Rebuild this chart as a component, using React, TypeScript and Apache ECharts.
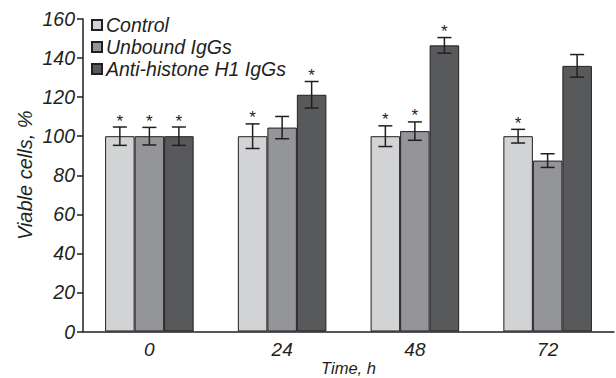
import React, { useEffect, useRef } from "react";
import * as echarts from "echarts";

const categories = ["0", "24", "48", "72"];
const seriesNames = ["Control", "Unbound IgGs", "Anti-histone H1 IgGs"];
const controlValues = [100, 100, 100, 100];
const unboundValues = [100, 104.4, 102.6, 87.5];
const antiValues = [100, 121.2, 146.5, 136];
const controlErr = [4.7, 6.3, 5.3, 3.5];
const unboundErr = [4.5, 5.7, 4.7, 3.5];
const antiErr = [4.7, 6.8, 4, 5.8];
const controlSig = [1, 1, 1, 1];
const unboundSig = [1, 0, 1, 0];
const antiSig = [1, 1, 1, 0];
const yTicks = [0, 20, 40, 60, 80, 100, 120, 140, 160];

const colors = ["#d1d3d4", "#939598", "#58595b"];
const FONT = "'Liberation Sans', Arial, sans-serif";
const CAT_GAP = 0.333;

export default function App() {
  const ref = useRef<HTMLDivElement>(null);
  useEffect(() => {
    if (!ref.current) return;
    const chart = echarts.init(ref.current, undefined, { renderer: "svg" });
    const values = [controlValues, unboundValues, antiValues];
    const errs = [controlErr, unboundErr, antiErr];
    const sigs = [controlSig, unboundSig, antiSig];

    const barSeries = values.map((vals, i) => ({
      name: seriesNames[i],
      type: "bar",
      data: vals,
      barGap: "0%",
      barCategoryGap: "33.3%",
      itemStyle: { color: colors[i], borderColor: "#231f20", borderWidth: 1 },
      z: 2,
    }));

    const errSeries = values.map((vals, i) => ({
      type: "custom",
      name: "err" + i,
      z: 5,
      silent: true,
      data: vals.map((v, k) => [k, v, errs[i][k], sigs[i][k]]),
      renderItem: (params: any, api: any) => {
        const k = api.value(0);
        const v = api.value(1);
        const e = api.value(2);
        const s = api.value(3);
        const band = api.size([1, 0])[0];
        const bw = (band * (1 - CAT_GAP)) / 3;
        const center = api.coord([k, v]);
        const x = center[0] + (i - 1) * bw;
        const top = api.coord([k, v + e])[1];
        const bot = api.coord([k, v - e])[1];
        const half = 7;
        const style = { stroke: "#231f20", lineWidth: 1.5 };
        const children: any[] = [
          { type: "line", shape: { x1: x, y1: top, x2: x, y2: bot }, style },
          { type: "line", shape: { x1: x - half, y1: top, x2: x + half, y2: top }, style },
          { type: "line", shape: { x1: x - half, y1: bot, x2: x + half, y2: bot }, style },
        ];
        if (s) {
          children.push({
            type: "text",
            style: {
              text: "*",
              x: x,
              y: top - 6,
              align: "center",
              verticalAlign: "middle",
              fontSize: 17,
              fontFamily: FONT,
              fill: "#231f20",
            },
          });
        }
        return { type: "group", children };
      },
    }));

    chart.setOption({
      animation: false,
      backgroundColor: "#ffffff",
      grid: {
        left: 83,
        right: 2,
        top: 19,
        bottom: 46.5,
        containLabel: false,
        outerBoundsMode: "none",
      },
      legend: {
        data: seriesNames,
        orient: "vertical",
        left: 86,
        top: 10,
        itemWidth: 10,
        itemHeight: 10,
        itemGap: 2,
        icon: "rect",
        textStyle: {
          fontFamily: FONT,
          fontStyle: "italic",
          fontSize: 19.5,
          color: "#231f20",
          padding: [0, 0, 0, -1],
        },
      },
      xAxis: {
        type: "category",
        data: categories,
        name: "Time, h",
        nameLocation: "middle",
        nameGap: 27,
        nameMoveOverlap: false,
        nameTextStyle: {
          fontFamily: FONT,
          fontStyle: "italic",
          fontSize: 16.5,
          lineHeight: 18,
          color: "#231f20",
          verticalAlign: "top",
        },
        axisLine: { lineStyle: { color: "#231f20", width: 1.5 } },
        axisTick: { length: 6, lineStyle: { color: "#231f20", width: 1.5 } },
        axisLabel: { fontFamily: FONT, fontStyle: "italic", fontSize: 19, color: "#231f20", margin: 8 },
      },
      yAxis: {
        type: "value",
        min: 0,
        max: 160,
        interval: 20,
        name: "Viable cells, %",
        nameLocation: "middle",
        nameGap: 48,
        nameMoveOverlap: false,
        nameTextStyle: { fontFamily: FONT, fontStyle: "italic", fontSize: 20, color: "#231f20" },
        axisLine: { show: true, lineStyle: { color: "#231f20", width: 1.5 } },
        axisTick: { show: true, length: 6, lineStyle: { color: "#231f20", width: 1.5 } },
        splitLine: { show: false },
        axisLabel: {
          fontFamily: FONT,
          fontStyle: "italic",
          fontSize: 19.5,
          color: "#231f20",
          margin: 8,
          formatter: (v: number) => (yTicks.includes(v) ? String(v) : ""),
        },
      },
      series: [...barSeries, ...errSeries],
    });
    return () => chart.dispose();
  }, []);
  return <div ref={ref} style={{ width: 616, height: 378, position: "absolute", left: 0, top: 0 }} />;
}
